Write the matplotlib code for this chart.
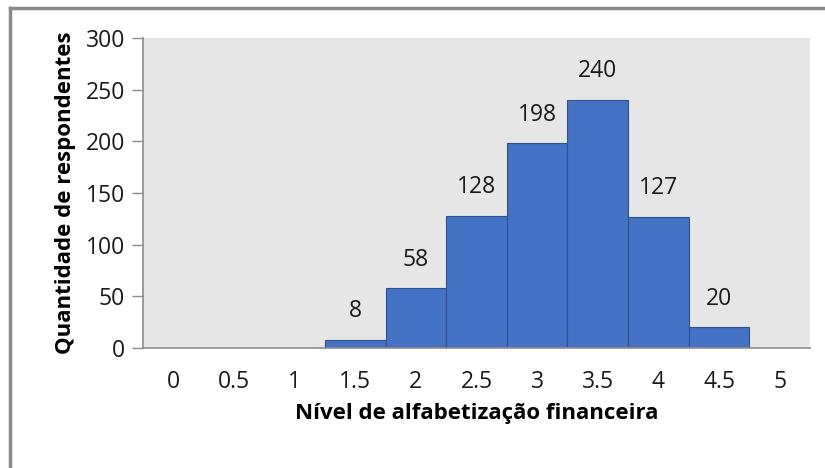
import matplotlib.pyplot as plt
from matplotlib.lines import Line2D

# data
niveis = ['0', '0.5', '1', '1.5', '2', '2.5', '3', '3.5', '4', '4.5', '5']
respondentes = [0, 0, 0, 8, 58, 128, 198, 240, 127, 20, 0]

plt.rcParams['font.family'] = ['Open Sans', 'DejaVu Sans']
size = 16.5

fig = plt.figure(figsize=(8.25, 4.68), dpi=100)
ax = fig.add_axes([143/825, 1-348/468, 667/825, 310/468])
ax.set_facecolor('#e6e6e6')

x = list(range(len(niveis)))
ax.bar(x, respondentes, width=1.0, color='#4472c4', edgecolor='#2f528f', linewidth=0.8)

for xi, v in zip(x, respondentes):
    if v > 0:
        ax.text(xi, v + 16, str(v), ha='center', va='bottom', fontsize=size, color='#1a1a1a')

ax.set_xlim(-0.5, len(niveis) - 0.5)
ax.set_ylim(0, 300)
ax.set_yticks([0, 50, 100, 150, 200, 250, 300])
ax.set_xticks(x)
ax.set_xticklabels(niveis)
ax.tick_params(axis='x', length=0, pad=16, labelsize=size, colors='#1a1a1a')
ax.tick_params(axis='y', length=8, width=1, color='#8c8c8c', pad=5, labelsize=size, labelcolor='#1a1a1a')

for s in ['top', 'right']:
    ax.spines[s].set_visible(False)
ax.spines['left'].set_color('#8c8c8c')
ax.spines['bottom'].set_color('#8c8c8c')
ax.spines['left'].set_linewidth(1.2)
ax.spines['bottom'].set_linewidth(1.2)

ax.set_ylabel('Quantidade de respondentes', fontsize=size - 0.5, fontweight='bold', labelpad=7)
ax.set_xlabel('Nível de alfabetização financeira', fontsize=size - 0.5, fontweight='bold', labelpad=6)

# outer frame (left and top only visible)
fig.add_artist(Line2D([10/825, 10/825], [0, 1-8/468], color='#8a8a8a', lw=2.5, transform=fig.transFigure))
fig.add_artist(Line2D([10/825, 1], [1-8/468, 1-8/468], color='#8a8a8a', lw=2.5, transform=fig.transFigure))

plt.savefig('out.png', dpi=100)
